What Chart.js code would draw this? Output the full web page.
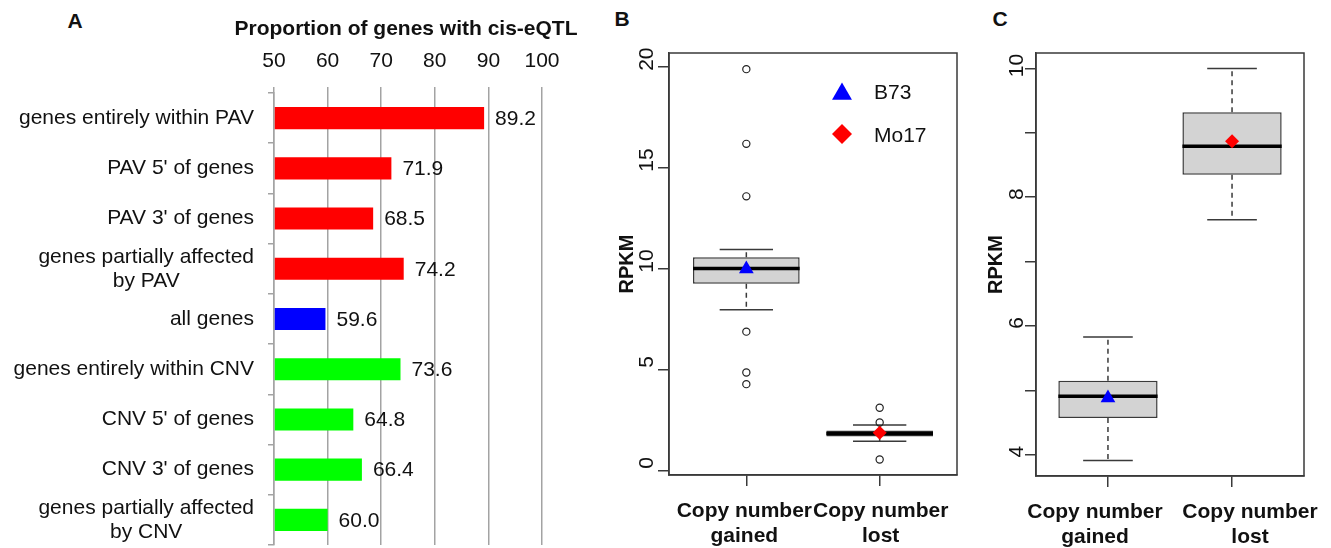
<!DOCTYPE html>
<html>
<head>
<meta charset="utf-8">
<script src="https://cdn.jsdelivr.net/npm/chart.js@4.4.1/dist/chart.umd.min.js"></script>
<style>
    body { margin: 0; background: #fff; }
    #page { position: relative; width: 1331px; height: 548px; overflow: hidden; font-family: "Liberation Sans", Arial, sans-serif; }
    .panel { position: absolute; top: 0; height: 548px; }
    .tag { position: absolute; font-weight: bold; font-size: 21px; line-height: 21px; transform: translate(-50%, -50%); color: #111; }
</style>
</head>
<body>
<div id="page">
    <div class="tag" style="left:75px; top:20px">A</div>
    <div class="tag" style="left:622px; top:18px">B</div>
    <div class="tag" style="left:1000px; top:18px">C</div>
    <div class="panel" style="left:0; width:600px"><canvas id="chartA"></canvas></div>
    <div class="panel" style="left:600px; width:370px"><canvas id="chartB"></canvas></div>
    <div class="panel" style="left:975px; width:356px"><canvas id="chartC"></canvas></div>
</div>
<script>
// Panel A: proportion of genes with cis-eQTL
const categories = [
    'genes entirely within PAV',
    "PAV 5' of genes",
    "PAV 3' of genes",
    ['genes partially affected', 'by PAV'],
    'all genes',
    'genes entirely within CNV',
    "CNV 5' of genes",
    "CNV 3' of genes",
    ['genes partially affected', 'by CNV']
];
const proportions = [89.2, 71.9, 68.5, 74.2, 59.6, 73.6, 64.8, 66.4, 60.0];
const propTicks = [50, 60, 70, 80, 90, 100];
const barColors = ['#ff0000', '#ff0000', '#ff0000', '#ff0000', '#0000ff', '#00ff00', '#00ff00', '#00ff00', '#00ff00'];
const titleA = 'Proportion of genes with cis-eQTL';

// Panels B and C: RPKM box plots
const groups = [['Copy number', 'gained'], ['Copy number', 'lost']];
const groupPos = [1, 2];

const lowB = [7.98, 1.47];
const q1B = [9.27, 1.71];
const medianB = [10.03, 1.85];
const q3B = [10.59, 2.0];
const highB = [10.97, 2.28];
const outGainedB = [19.9, 16.2, 13.6, 6.9, 4.88, 4.3];
const outLostB = [3.13, 2.4, 0.57];
const b73B = [10.0];
const mo17B = [1.89];
const ticksB = [0, 5, 10, 15, 20];

const lowC = [3.91, 7.65];
const q1C = [4.57, 8.35];
const medianC = [4.91, 8.79];
const q3C = [5.15, 9.32];
const highC = [5.83, 10.0];
const b73C = [4.88];
const mo17C = [8.87];
const ticksC = [4, 5, 6, 7, 8, 9, 10];
const labeledC = [4, 6, 8, 10];

const FONT = "'Liberation Sans', Arial, sans-serif";
const GRID = '#a3a3a3';
const INK = '#111';
const LINE = '#3a3a3a';

Chart.defaults.font.family = FONT;
Chart.defaults.color = INK;

// draws a marker with Chart.js' own point shapes
function marker(ctx, style, radius, x, y, color) {
    ctx.save();
    ctx.fillStyle = color;
    ctx.strokeStyle = color;
    if (Chart.helpers && Chart.helpers.drawPoint) {
        Chart.helpers.drawPoint(ctx, { pointStyle: style, rotation: 0, radius: radius, borderWidth: 0 }, x, y);
    } else {
        ctx.beginPath();
        if (style === 'triangle') {
            ctx.moveTo(x, y - radius);
            ctx.lineTo(x + radius * 0.866, y + radius / 2);
            ctx.lineTo(x - radius * 0.866, y + radius / 2);
        } else {
            ctx.moveTo(x - radius, y);
            ctx.lineTo(x, y - radius);
            ctx.lineTo(x + radius, y);
            ctx.lineTo(x, y + radius);
        }
        ctx.closePath();
        ctx.fill();
    }
    ctx.restore();
}

// ---------- Panel A ----------
const categoryLabels = {
    id: 'categoryLabels',
    afterDraw(chart) {
        const { ctx, scales: { x, y } } = chart;
        ctx.save();
        ctx.font = `21px ${FONT}`;
        ctx.fillStyle = INK;
        ctx.textAlign = 'center';
        ctx.textBaseline = 'middle';
        const right = y.right - 20;
        categories.forEach((label, i) => {
            const lines = Array.isArray(label) ? label : [label];
            const w = Math.max(...lines.map(l => ctx.measureText(l).width));
            const cy = y.getPixelForValue(i);
            lines.forEach((line, k) => {
                ctx.fillText(line, right - w / 2, cy + (k - (lines.length - 1) / 2) * 24);
            });
        });
        // axis title, drawn without the axis-width squeeze
        ctx.font = `bold 21px ${FONT}`;
        ctx.fillText(titleA, (x.left + x.right) / 2 - 2, 29);
        ctx.restore();
    }
};

const valueLabels = {
    id: 'valueLabels',
    afterDatasetsDraw(chart) {
        const { ctx, scales: { x, y } } = chart;
        ctx.save();
        ctx.font = `21px ${FONT}`;
        ctx.fillStyle = INK;
        ctx.textAlign = 'left';
        ctx.textBaseline = 'middle';
        proportions.forEach((v, i) => {
            ctx.fillText(v.toFixed(1), x.getPixelForValue(v) + 11, y.getPixelForValue(i) + 1);
        });
        ctx.restore();
    }
};

new Chart(document.getElementById('chartA'), {
    type: 'bar',
    data: {
        labels: categories,
        datasets: [{
            data: proportions,
            backgroundColor: barColors,
            base: propTicks[0],
            categoryPercentage: 1,
            barPercentage: 0.44
        }]
    },
    options: {
        indexAxis: 'y',
        responsive: true,
        maintainAspectRatio: false,
        animation: false,
        events: [],
        layout: { padding: { left: 0, top: 0, right: 58, bottom: 3 } },
        plugins: { legend: { display: false }, tooltip: { enabled: false } },
        scales: {
            x: {
                position: 'top',
                min: propTicks[0],
                max: propTicks[propTicks.length - 1],
                afterBuildTicks: s => { s.ticks = propTicks.map(v => ({ value: v })); },
                afterFit: s => { s.height = 93; },
                ticks: { font: { size: 21 }, padding: 13, color: INK },
                grid: { color: GRID, lineWidth: 1.5, tickLength: 6 },
                border: { display: false }
            },
            y: {
                afterFit: s => { s.width = 274; },
                ticks: { display: false },
                grid: { drawOnChartArea: false, color: GRID, lineWidth: 1.5, tickLength: 6 },
                border: { color: GRID, width: 1.5 }
            }
        }
    },
    plugins: [categoryLabels, valueLabels]
});

// ---------- Panels B and C ----------
function boxChart(id, s) {
    const whiskers = {
        id: 'whiskers',
        afterDatasetDraw(chart, args) {
            if (args.index !== 0) return;
            const { ctx, scales: { y } } = chart;
            const bars = chart.getDatasetMeta(0).data;
            ctx.save();
            bars.forEach((bar, i) => {
                const half = bar.width / 2;
                const cap = bar.width / 4;
                const yq1 = y.getPixelForValue(s.q1[i]);
                const yq3 = y.getPixelForValue(s.q3[i]);
                const ylo = y.getPixelForValue(s.low[i]);
                const yhi = y.getPixelForValue(s.high[i]);
                const ymed = y.getPixelForValue(s.median[i]);
                ctx.strokeStyle = LINE;
                ctx.lineWidth = 1.5;
                ctx.setLineDash([5, 4]);
                ctx.beginPath();
                ctx.moveTo(bar.x, yq1); ctx.lineTo(bar.x, ylo);
                ctx.moveTo(bar.x, yq3); ctx.lineTo(bar.x, yhi);
                ctx.stroke();
                ctx.setLineDash([]);
                ctx.beginPath();
                ctx.moveTo(bar.x - cap, ylo); ctx.lineTo(bar.x + cap, ylo);
                ctx.moveTo(bar.x - cap, yhi); ctx.lineTo(bar.x + cap, yhi);
                ctx.stroke();
                ctx.strokeStyle = '#000';
                ctx.lineWidth = 3.5;
                ctx.beginPath();
                ctx.moveTo(bar.x - half, ymed); ctx.lineTo(bar.x + half, ymed);
                ctx.stroke();
            });
            ctx.restore();
        },
        afterDraw(chart) {
            const { ctx, chartArea: a, scales: { x, y } } = chart;
            ctx.save();
            ctx.strokeStyle = LINE;
            ctx.lineWidth = 1.5;
            ctx.strokeRect(a.left, a.top, a.right - a.left, a.bottom - a.top);
            // rotated y tick labels, like R's default axis
            ctx.font = `21px ${FONT}`;
            ctx.fillStyle = INK;
            ctx.textAlign = 'center';
            ctx.textBaseline = 'middle';
            s.labeled.forEach(v => {
                ctx.save();
                ctx.translate(s.tickLabelX, y.getPixelForValue(v) - s.tickShift);
                ctx.rotate(-Math.PI / 2);
                ctx.fillText(String(v), 0, 0);
                ctx.restore();
            });
            // group labels under the x ticks
            ctx.font = `bold 21px ${FONT}`;
            groups.forEach((lines, i) => {
                const gx = x.getPixelForValue(groupPos[i]) + s.labelShift[i];
                lines.forEach((line, k) => ctx.fillText(line, gx, a.bottom + 36 + k * 25));
            });
            if (s.legend) {
                const lx = a.left + 173;
                const tx = a.left + 205;
                const ly1 = a.top + 39;
                const ly2 = a.top + 81;
                marker(ctx, 'triangle', 11.5, lx, ly1 + 2, '#0000ff');
                marker(ctx, 'rectRot', 10, lx, ly2, '#ff0000');
                ctx.font = `21px ${FONT}`;
                ctx.fillStyle = INK;
                ctx.textAlign = 'left';
                ctx.fillText('B73', tx, ly1 + 1);
                ctx.fillText('Mo17', tx, ly2 + 2);
            }
            ctx.restore();
        }
    };

    const outlierPts = [];
    s.outliers.forEach((list, i) => list.forEach(v => outlierPts.push({ x: groupPos[i], y: v })));

    new Chart(document.getElementById(id), {
        type: 'bar',
        data: {
            datasets: [
                {
                    data: groupPos.map((p, i) => ({ x: p, y: [s.q1[i], s.q3[i]] })),
                    backgroundColor: '#d3d3d3',
                    borderColor: LINE,
                    borderWidth: 1.5,
                    borderSkipped: false,
                    categoryPercentage: 1,
                    barPercentage: 0.8,
                    order: 3
                },
                {
                    type: 'scatter',
                    data: outlierPts,
                    pointStyle: 'circle',
                    pointRadius: 3.6,
                    pointBorderWidth: 1.2,
                    pointBorderColor: '#222',
                    pointBackgroundColor: 'rgba(0,0,0,0)',
                    order: 2
                },
                {
                    type: 'scatter',
                    data: s.b73.map(v => ({ x: groupPos[0], y: v })),
                    pointStyle: 'triangle',
                    pointRadius: 8.5,
                    pointBorderWidth: 0,
                    pointBackgroundColor: '#0000ff',
                    order: 1
                },
                {
                    type: 'scatter',
                    data: s.mo17.map(v => ({ x: groupPos[1], y: v })),
                    pointStyle: 'rectRot',
                    pointRadius: 7,
                    pointBorderWidth: 0,
                    pointBackgroundColor: '#ff0000',
                    order: 1
                }
            ]
        },
        options: {
            responsive: true,
            maintainAspectRatio: false,
            animation: false,
            events: [],
            layout: { padding: { left: 0, top: 53, right: s.padRight, bottom: 0 } },
            plugins: { legend: { display: false }, tooltip: { enabled: false } },
            scales: {
                x: {
                    type: 'linear',
                    min: 0.42,
                    max: 2.58,
                    offset: false,
                    bounds: 'data',
                    afterBuildTicks: sc => { sc.ticks = groupPos.map(v => ({ value: v })); },
                    afterFit: sc => { sc.height = s.xAxisHeight; },
                    ticks: { display: false },
                    grid: { offset: false, drawOnChartArea: false, tickLength: 11, color: LINE, lineWidth: 1.5 },
                    border: { color: LINE, width: 1.5 }
                },
                y: {
                    min: s.yMin,
                    max: s.yMax,
                    afterBuildTicks: sc => { sc.ticks = s.ticks.map(v => ({ value: v })); },
                    afterFit: sc => { sc.width = s.yAxisWidth; },
                    ticks: { display: false },
                    grid: { drawOnChartArea: false, tickLength: 11, color: LINE, lineWidth: 1.5 },
                    border: { color: LINE, width: 1.5 },
                    title: {
                        display: true,
                        text: 'RPKM',
                        font: { size: 20, weight: 'bold' },
                        color: INK,
                        padding: { top: s.titlePad, bottom: 0 }
                    }
                }
            }
        },
        plugins: [whiskers]
    });
}

boxChart('chartB', {
    low: lowB, q1: q1B, median: medianB, q3: q3B, high: highB,
    outliers: [outGainedB, outLostB], b73: b73B, mo17: mo17B,
    ticks: ticksB, labeled: ticksB,
    yMin: -0.2, yMax: 20.7,
    yAxisWidth: 69, xAxisHeight: 73, padRight: 13,
    titlePad: 15, tickLabelX: 47, tickShift: 8, labelShift: [-2, 1], legend: true
});

boxChart('chartC', {
    low: lowC, q1: q1C, median: medianC, q3: q3C, high: highC,
    outliers: [[], []], b73: b73C, mo17: mo17C,
    ticks: ticksC, labeled: labeledC,
    yMin: 3.67, yMax: 10.24,
    yAxisWidth: 61, xAxisHeight: 72, padRight: 27,
    titlePad: 9, tickLabelX: 42, tickShift: 3, labelShift: [-13, 18], legend: false
});
</script>
</body>
</html>
